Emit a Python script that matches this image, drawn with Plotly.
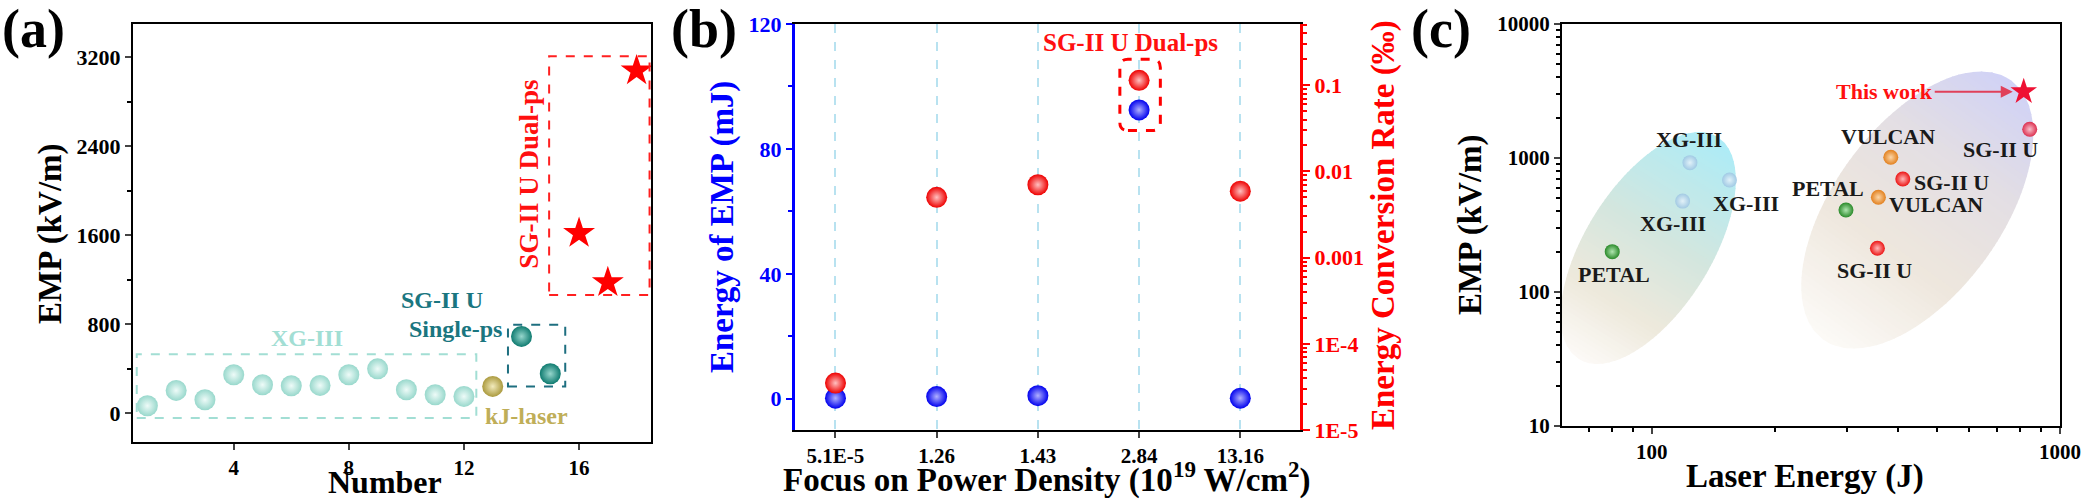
import numpy as np
import plotly.graph_objects as go

W, H = 2086, 502
FONT = "Times New Roman, Liberation Serif, serif"

# ---------------- panel (a) data ----------------
a_xg_num = list(range(1, 13))
a_xg_emp = [66, 204, 120, 345, 255, 246, 249, 345, 398, 210, 165, 150]
a_kj_num = [13]
a_kj_emp = [240]
a_single_num = [14, 15]
a_single_emp = [690, 354]
a_dual_num = [16, 17, 18]
a_dual_emp = [1618, 1175, 3080]
a_yticks = [0, 800, 1600, 2400, 3200]
a_xticks = [4, 8, 12, 16]

# ---------------- panel (b) data ----------------
b_cats = ["5.1E-5", "1.26", "1.43", "2.84", "13.16"]
b_energy = [0.2, 0.7, 1.0, 92.5, 0.2]
b_rate = [3.5e-5, 0.005, 0.007, 0.114, 0.0059]
b_left_ticks = [0, 40, 80, 120]
b_right_ticks = [1e-5, 1e-4, 1e-3, 1e-2, 1e-1]
b_right_ticktext = ["1E-5", "1E-4", "0.001", "0.01", "0.1"]

# ---------------- panel (c) data ----------------
c_petal_E = [80, 299]
c_petal_emp = [200, 409]
c_xg_E = [124, 155, 119]
c_xg_emp = [923, 685, 477]
c_vulcan_E = [385, 359]
c_vulcan_emp = [1012, 509]
c_sg_E = [412, 357]
c_sg_emp = [697, 212]
c_sg_top_E = [843]
c_sg_top_emp = [1637]
c_this_E = [815]
c_this_emp = [3125]
c_xticks = [100, 1000]
c_yticks = [10, 100, 1000, 10000]

# ---------------- layout geometry (pixels) ----------------
def xd(p0, p1):
    return [p0 / W, p1 / W]

def yd(top, bot):
    return [1 - bot / H, 1 - top / H]

A_X, A_Y = xd(133, 651), yd(24, 442)
B_X, B_Y = xd(795, 1300), yd(24, 430)
C_X, C_Y = xd(1562, 2060), yd(24, 426)
A_XR, A_YR = [0.5, 18.5], [-260, 3500]
B_XR, B_YR, B_Y2R = [-0.4, 4.59], [-10, 120], [-5, -0.29]
C_XR, C_YR = [1.78, 3.0], [1.0, 4.0]

fig = go.Figure()

# ---------- gradient ellipses for panel (c) ----------
px_x = (C_X[1] - C_X[0]) * W / (C_XR[1] - C_XR[0])
px_y = (C_Y[1] - C_Y[0]) * H / (C_YR[1] - C_YR[0])


def interp_color(stops, f):
    for i in range(len(stops) - 1):
        f0, c0 = stops[i]
        f1, c1 = stops[i + 1]
        if f <= f1:
            t = (f - f0) / (f1 - f0) if f1 > f0 else 0
            c = [c0[k] + (c1[k] - c0[k]) * t for k in range(3)]
            return "rgb(%d,%d,%d)" % tuple(int(round(v)) for v in c)
    return "rgb(%d,%d,%d)" % stops[-1][1]


def add_ellipse(cE, cEmp, a, b, ang, stops, n=60):
    th = np.radians(ang)
    u0, v0 = np.log10(cE), np.log10(cEmp)
    edges = np.linspace(-a, a, n + 1)
    for i in range(n):
        s0, s1 = edges[i], min(edges[i + 1] + 0.8, a)
        s = np.linspace(s0, s1, 12)
        t = b * np.sqrt(np.clip(1 - (s / a) ** 2, 0, 1))
        ss = np.concatenate([s, s[::-1]])
        tt = np.concatenate([t, -t[::-1]])
        dx = ss * np.cos(th) - tt * np.sin(th)
        dy = ss * np.sin(th) + tt * np.cos(th)
        xs = 10 ** (u0 + dx / px_x)
        ys = 10 ** (v0 + dy / px_y)
        col = interp_color(stops, (i + 0.5) / n)
        fig.add_trace(go.Scatter(x=xs, y=ys, xaxis="x3", yaxis="y4", mode="lines",
                                 fill="toself", fillcolor=col, line=dict(width=0),
                                 hoverinfo="skip", showlegend=False))


add_ellipse(98, 213, 131, 63, 58,
            [(0, (252, 250, 247)), (0.25, (238, 233, 220)), (0.55, (212, 230, 222)), (1, (172, 236, 247))])
add_ellipse(447, 409, 160, 84, 54,
            [(0, (252, 250, 247)), (0.35, (238, 231, 221)), (0.7, (227, 222, 228)), (1, (208, 210, 246))])


def sphere(x, y, xa, ya, color, center, size, opacity=1.0, symbol="circle"):
    m = dict(color=color, size=size, line=dict(width=0), opacity=opacity, symbol=symbol)
    if symbol == "circle":
        m["gradient"] = dict(type="radial", color=center)
    fig.add_trace(go.Scatter(x=x, y=y, xaxis=xa, yaxis=ya, mode="markers", marker=m,
                             hoverinfo="skip", showlegend=False))


# ---------- panel (a) ----------
sphere(a_xg_num, a_xg_emp, "x", "y", "#98d8cc", "#eefbf8", 21)
sphere(a_kj_num, a_kj_emp, "x", "y", "#ab9a3e", "#f2ebbd", 21)
sphere(a_single_num, a_single_emp, "x", "y", "#0f7b70", "#96d6cc", 21)
sphere(a_dual_num, a_dual_emp, "x", "y", "#ff0000", None, 24, symbol="star")

# ---------- panel (b) ----------
bx = list(range(len(b_cats)))
sphere(bx, b_energy, "x2", "y2", "#0000ee", "#b0b0ff", 21)
sphere(bx, b_rate, "x2", "y3", "#ee0000", "#ffc0c0", 21)

# ---------- panel (c) ----------
sphere(c_xg_E, c_xg_emp, "x3", "y4", "#9cc4e2", "#e8f3fb", 15, opacity=0.85)
sphere(c_petal_E, c_petal_emp, "x3", "y4", "#2a8a2a", "#b0e6b0", 15)
sphere(c_vulcan_E, c_vulcan_emp, "x3", "y4", "#e2801e", "#fcd6a8", 15)
sphere(c_sg_E, c_sg_emp, "x3", "y4", "#ec1414", "#ffb8b8", 15)
sphere(c_sg_top_E, c_sg_top_emp, "x3", "y4", "#dc3050", "#f8c0cc", 15)
sphere(c_this_E, c_this_emp, "x3", "y4", "#ee1133", None, 20, symbol="star")

# ---------- axes ----------
tickf = dict(family=FONT, size=21, color="black", weight="bold")
common = dict(showgrid=False, zeroline=False, ticks="outside", ticklen=6, tickwidth=2,
              showline=True, linewidth=2, linecolor="black", automargin=False)

minor_log_b = [k * 10.0 ** d for d in range(-5, 0) for k in range(2, 10)]
minor_log_cy = [k * 10.0 ** d for d in range(1, 4) for k in range(2, 10)]
minor_log_cx = [k * 10.0 ** d for d in range(1, 3) for k in range(2, 10)] + [60, 70, 80, 90]

fig.update_layout(
    width=W, height=H, margin=dict(l=0, r=0, t=0, b=0, autoexpand=False),
    paper_bgcolor="white", plot_bgcolor="rgba(0,0,0,0)", showlegend=False,
    font=dict(family=FONT, color="black"),
    xaxis=dict(domain=A_X, anchor="y", range=A_XR, tickvals=a_xticks, mirror=True,
               tickfont=tickf, **common),
    yaxis=dict(domain=A_Y, anchor="x", range=A_YR, tickvals=a_yticks, mirror=True,
               tickfont=dict(tickf, size=22),
               minor=dict(ticks="outside", ticklen=4, dtick=400, tick0=0,
                          tickcolor="black", tickwidth=2), **common),
    xaxis2=dict(domain=B_X, anchor="y2", range=B_XR, tickvals=bx, ticktext=b_cats,
                tickfont=tickf, zeroline=False, ticks="outside", ticklen=6, tickwidth=2,
                showline=True, linewidth=2, linecolor="black", mirror=True, automargin=False,
                showgrid=True, gridcolor="#b8e2f0", griddash="dash", gridwidth=1.5),
    yaxis2=dict(domain=B_Y, anchor="x2", range=B_YR, tickvals=b_left_ticks,
                tickfont=dict(family=FONT, size=22, color="#0000ff", weight="bold"),
                showgrid=False, zeroline=False, ticks="outside", ticklen=6, tickwidth=2,
                tickcolor="#0000ff", showline=True, linewidth=3, linecolor="#0000ff",
                automargin=False,
                minor=dict(ticks="outside", ticklen=4, dtick=20, tick0=0, tickcolor="#0000ff",
                           tickwidth=2)),
    yaxis3=dict(overlaying="y2", anchor="x2", side="right", type="log", range=B_Y2R,
                tickvals=b_right_ticks, ticktext=b_right_ticktext,
                tickfont=dict(family=FONT, size=22, color="#ff0000", weight="bold"),
                showgrid=False, zeroline=False, ticks="outside", ticklen=7, tickwidth=2,
                tickcolor="#ff0000", showline=True, linewidth=3, linecolor="#ff0000",
                automargin=False,
                minor=dict(ticks="outside", ticklen=4, tickvals=minor_log_b, tickcolor="#ff0000",
                           tickwidth=1.5)),
    xaxis3=dict(domain=C_X, anchor="y4", type="log", range=C_XR, tickvals=c_xticks,
                ticktext=["100", "1000"], mirror=True, tickfont=tickf,
                minor=dict(ticks="outside", ticklen=4, tickvals=minor_log_cx, tickcolor="black",
                           tickwidth=2), **common),
    yaxis4=dict(domain=C_Y, anchor="x3", type="log", range=C_YR, tickvals=c_yticks,
                ticktext=["10", "100", "1000", "10000"], mirror=True, tickfont=tickf,
                minor=dict(ticks="outside", ticklen=4, tickvals=minor_log_cy, tickcolor="black",
                           tickwidth=2), **common),
)

# ---------- shapes ----------
dash_line = lambda c, w=2: dict(color=c, width=w, dash="dash")
fig.add_shape(type="rect", xref="x", yref="y", x0=0.63, x1=12.43, y0=-45, y1=530,
              line=dash_line("#a2ded4"))
fig.add_shape(type="rect", xref="x", yref="y", x0=13.53, x1=15.52, y0=240, y1=795,
              line=dash_line("#1e6f80"))
fig.add_shape(type="rect", xref="x", yref="y", x0=14.96, x1=18.45, y0=1062, y1=3210,
              line=dash_line("#ff2020"))

# rounded dashed box around the dual-ps point in panel (b)
bx0, bx1, by0, by1 = 2.81, 3.21, 85.9, 108.7
rx, ry = 0.08, 2.6
path = (f"M {bx0+rx},{by0} L {bx1-rx},{by0} Q {bx1},{by0} {bx1},{by0+ry} "
        f"L {bx1},{by1-ry} Q {bx1},{by1} {bx1-rx},{by1} L {bx0+rx},{by1} "
        f"Q {bx0},{by1} {bx0},{by1-ry} L {bx0},{by0+ry} Q {bx0},{by0} {bx0+rx},{by0} Z")
fig.add_shape(type="path", xref="x2", yref="y2", path=path,
              line=dict(color="#ff0000", width=3, dash="dash"))

# ---------- annotations ----------
def note(text, x, y, xref, yref, size=24, color="black", angle=0, **kw):
    fig.add_annotation(text=text, x=x, y=y, xref=xref, yref=yref, showarrow=False,
                       textangle=angle, xanchor="center", yanchor="middle",
                       font=dict(family=FONT, size=size, color=color, weight="bold"), **kw)


def pnote(text, xpx, ypx, size=33, color="black", angle=0):
    note(text, xpx / W, 1 - ypx / H, "paper", "paper", size=size, color=color, angle=angle)


# panel labels
pnote("(a)", 33, 29, size=54)
pnote("(b)", 704, 29, size=54)
pnote("(c)", 1441, 29, size=54)

# axis titles
pnote("EMP (kV/m)", 50, 234, angle=-90)
pnote("Number", 385, 482, size=32)
pnote("Energy of EMP (mJ)", 722, 227, color="#0000ff", angle=-90)
pnote("Energy Conversion Rate (‰)", 1383, 225, color="#ff0000", angle=-90)
pnote("Focus on Power Density (10<sup>19</sup> W/cm<sup>2</sup>)", 1046, 477)
pnote("EMP (kV/m)", 1470, 225, angle=-90)
pnote("Laser Energy (J)", 1805, 476)

# panel (a) labels
note("XG-III", 6.53, 675, "x", "y", color="#a2ded4")
note("SG-II U", 11.23, 1020, "x", "y", color="#1a7680")
note("Single-ps", 11.7, 756, "x", "y", color="#1a7680")
note("kJ-laser", 14.18, -30, "x", "y", color="#bfae58")
note("SG-II U Dual-ps", 14.28, 2150, "x", "y", size=27, color="#ff1010", angle=-90)

# panel (b) label
note("SG-II U Dual-ps", 2.92, 114, "x2", "y2", size=25, color="#ff1010")

# panel (c) labels: (text, E, EMP, xshift, yshift)
c_labels = [
    ("PETAL", c_petal_E[0], c_petal_emp[0], 2, -23),
    ("XG-III", c_xg_E[0], c_xg_emp[0], -1, 23),
    ("XG-III", c_xg_E[1], c_xg_emp[1], 16, -23),
    ("XG-III", c_xg_E[2], c_xg_emp[2], -10, -22),
    ("PETAL", c_petal_E[1], c_petal_emp[1], -18, 22),
    ("VULCAN", c_vulcan_E[0], c_vulcan_emp[0], -3, 21),
    ("SG-II U", c_sg_E[0], c_sg_emp[0], 49, -3),
    ("VULCAN", c_vulcan_E[1], c_vulcan_emp[1], 58, -7),
    ("SG-II U", c_sg_E[1], c_sg_emp[1], -3, -22),
    ("SG-II U", c_sg_top_E[0], c_sg_top_emp[0], -29, -20),
]
for txt, e, v, xs, ys in c_labels:
    note(txt, np.log10(e), np.log10(v), "x3", "y4", size=22, color="#1a1a1a",
         xshift=xs, yshift=ys)

fig.add_annotation(text="This work", x=np.log10(c_this_E[0]), y=np.log10(c_this_emp[0]),
                   xref="x3", yref="y4", showarrow=True, ax=-139, ay=0,
                   arrowhead=2, arrowsize=1.2, arrowwidth=2, arrowcolor="#e0405a", standoff=11,
                   font=dict(family=FONT, size=22, color="#ff1010", weight="bold"))

fig.write_html("out.html")
